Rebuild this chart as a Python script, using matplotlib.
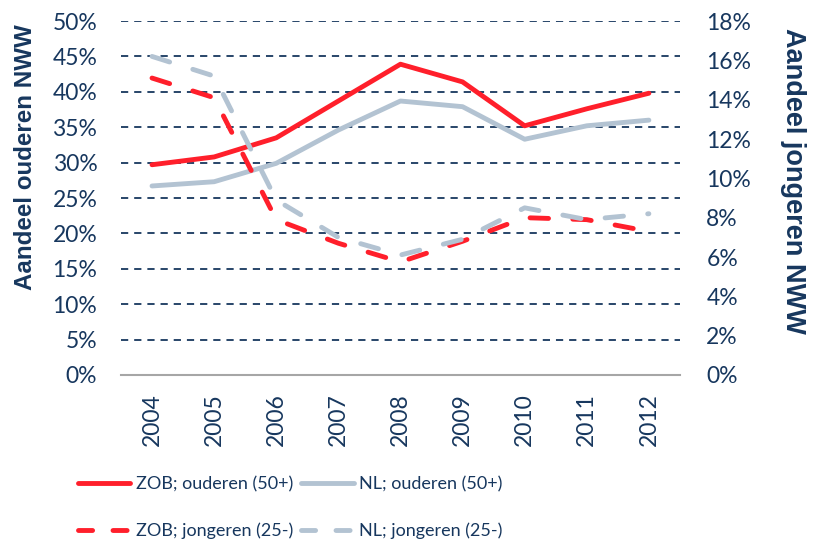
import matplotlib.pyplot as plt
from matplotlib.ticker import FuncFormatter
from matplotlib.lines import Line2D

# data
years = [2004, 2005, 2006, 2007, 2008, 2009, 2010, 2011, 2012]
zob_ouderen = [29.7, 30.8, 33.5, 38.7, 43.9, 41.4, 35.2, 37.6, 39.8]
nl_ouderen = [26.7, 27.3, 29.9, 34.6, 38.7, 37.9, 33.3, 35.2, 36.0]
zob_jongeren = [15.1, 14.1, 7.9, 6.7, 5.75, 6.8, 8.0, 7.9, 7.3]
nl_jongeren = [16.2, 15.2, 8.9, 7.0, 6.1, 6.9, 8.5, 7.9, 8.2]

navy = '#17375E'
red = '#FF1F2B'
grey = '#B3C3D2'
dash = (0, (3.8, 5.0))

plt.rcParams['font.family'] = ['Lato', 'DejaVu Sans']

fig = plt.figure(figsize=(8.19, 5.46), dpi=100)
ax = fig.add_axes([0.1477, 0.3132, 0.6825, 0.6483])
ax2 = ax.twinx()

# left axis: ouderen
ax.plot(years, zob_ouderen, color=red, lw=3.5, solid_capstyle='round', zorder=3)
ax.plot(years, nl_ouderen, color=grey, lw=3.5, solid_capstyle='round', zorder=3)
ax.set_ylim(0, 50)
ax.set_yticks(range(0, 51, 5))
ax.yaxis.set_major_formatter(FuncFormatter(lambda v, p: f"{v:.0f}%"))
ax.set_xlim(2003.5, 2012.5)
ax.set_xticks(years)
ax.set_xticklabels([str(y) for y in years], rotation=90)
ax.grid(axis='y', color=navy, lw=1.3, linestyle=(0, (4, 3.3)))
ax.set_axisbelow(True)

# right axis: jongeren
ax2.plot(years, zob_jongeren, color=red, lw=3.5, dash_capstyle='round', linestyle=dash)
ax2.plot(years, nl_jongeren, color=grey, lw=3.5, dash_capstyle='round', linestyle=dash)
ax2.set_ylim(0, 18)
ax2.set_yticks(range(0, 19, 2))
ax2.yaxis.set_major_formatter(FuncFormatter(lambda v, p: f"{v:.0f}%"))

for a in (ax, ax2):
    for s in a.spines.values():
        s.set_visible(False)
    a.tick_params(length=0, labelsize=16.5, labelcolor=navy)
ax.spines['bottom'].set_visible(True)
ax.spines['bottom'].set_color('#A6A6A6')
ax.spines['bottom'].set_linewidth(1.5)
ax.tick_params(axis='x', pad=13)
ax.tick_params(axis='y', pad=17)
ax2.tick_params(axis='y', pad=19)

# axis titles (placed by hand, like in the original)
fig.text(25.5 / 819, 1 - 157 / 546, 'Aandeel ouderen NWW', fontsize=17.4, fontweight='bold',
         family='Liberation Sans', color=navy, rotation=90, ha='center', va='center')
fig.text(793 / 819, 1 - 181 / 546, 'Aandeel jongeren NWW', fontsize=19.5, fontweight='bold',
         family='Liberation Sans', color=navy, rotation=-90, ha='center', va='center')

handles = [
    Line2D([], [], color=red, lw=3.5, solid_capstyle='round'),
    Line2D([], [], color=red, lw=3.5, dash_capstyle='round', linestyle=(0, (2.9, 4.2))),
    Line2D([], [], color=grey, lw=3.5, solid_capstyle='round'),
    Line2D([], [], color=grey, lw=3.5, dash_capstyle='round', linestyle=(0, (2.9, 4.2))),
]
labels = ['ZOB; ouderen (50+)', 'ZOB; jongeren (25-)', 'NL; ouderen (50+)', 'NL; jongeren (25-)']
leg = fig.legend(handles, labels, ncol=2, loc='upper left', bbox_to_anchor=(78 / 819, 1 - 476 / 546),
                 frameon=False, fontsize=13, handlelength=2.9, handletextpad=0.3,
                 columnspacing=0.45, labelspacing=1.7, borderaxespad=0, borderpad=0)
for t in leg.get_texts():
    t.set_color(navy)

fig.savefig('out.png', dpi=100)
